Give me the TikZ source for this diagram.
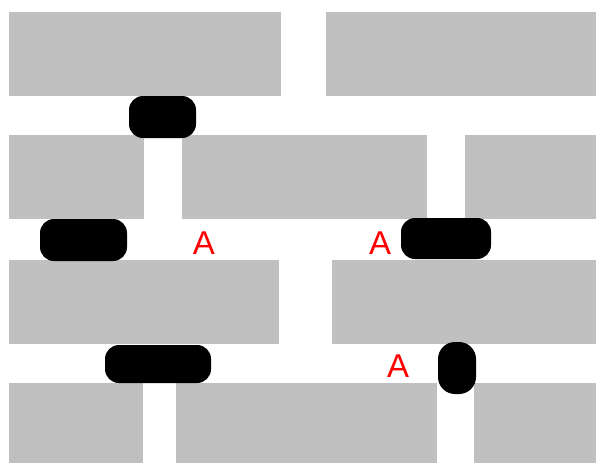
\documentclass[tikz,border=0pt]{standalone}
\usepackage{fontspec}
\setmainfont{Liberation Sans}
\definecolor{brick}{HTML}{C0C0C0}
\definecolor{lbl}{HTML}{FF0000}
\begin{document}
\begin{tikzpicture}[x=1pt,y=-1pt,
  brickbox/.style={fill=brick,draw=none},
  pill/.style={fill=black,draw=none,rounded corners=14pt},
  vpill/.style={fill=black,draw=none,rounded corners=17pt},
  marklabel/.style={text=lbl,font=\fontsize{33}{33}\selectfont,inner sep=0pt,anchor=base}]
\useasboundingbox[fill=white] (0,0) rectangle (596,463);
% row 1
\fill[brickbox] (9,12) rectangle (281,96);
\fill[brickbox] (326,12) rectangle (596,96);
% row 2
\fill[brickbox] (9,135) rectangle (144,219);
\fill[brickbox] (182,135) rectangle (427,219);
\fill[brickbox] (465,135) rectangle (596,219);
% row 3
\fill[brickbox] (9,260) rectangle (279,344);
\fill[brickbox] (332,260) rectangle (596,344);
% row 4
\fill[brickbox] (9,383) rectangle (143,463);
\fill[brickbox] (176,383) rectangle (437,463);
\fill[brickbox] (474,383) rectangle (596,463);
% pills
\fill[pill] (129,96) rectangle (196,138);
\fill[pill] (40,219) rectangle (127,261);
\fill[pill] (401,218) rectangle (491,259);
\fill[pill] (105,345) rectangle (211,383);
\fill[vpill] (438,342) rectangle (476,394);
% labels
\node[marklabel] (a1) at (204,254) {A};
\node[marklabel] (a2) at (380,254) {A};
\node[marklabel] (a3) at (398,377) {A};
\end{tikzpicture}
\end{document}
